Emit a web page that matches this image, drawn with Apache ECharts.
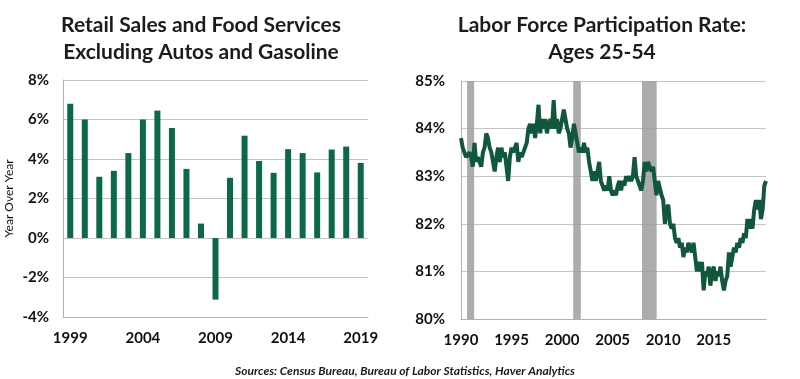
<!DOCTYPE html>
<html><head><meta charset="utf-8">
<script src="https://cdn.jsdelivr.net/npm/echarts@6/dist/echarts.min.js"></script>
<style>html,body{margin:0;padding:0;background:#fff}#c{width:800px;height:379px}</style>
</head><body><div id="c"></div>
<script>
// Left chart: Retail sales ex autos & gasoline, year over year %
const retailYears = ['1999','2000','2001','2002','2003','2004','2005','2006','2007','2008','2009','2010','2011','2012','2013','2014','2015','2016','2017','2018','2019'];
const retailValues = [6.8,6.0,3.1,3.4,4.3,6.0,6.45,5.57,3.5,0.73,-3.12,3.05,5.18,3.9,3.3,4.5,4.3,3.32,4.48,4.63,3.8];
const retailTicks = [-4,-2,0,2,4,6,8];

// Right chart: LFPR ages 25-54, readings every 2 months from Jan 1990
const lfprStart = 1990;
const lfprStepYears = 1/6;
const lfprValues = [
83.8,83.6,83.5,83.4,83.4,83.5,83.4,83.2,83.7,83.3,83.4,83.4,83.2,83.5,83.6,83.9,83.8,83.6,83.5,83.3,
83.1,83.4,83.6,83.3,83.6,83.4,83.5,83.2,82.9,83.4,83.6,83.5,83.6,83.7,83.3,83.5,83.4,83.5,83.5,83.7,
84.0,84.1,83.9,84.1,83.8,84.1,84.5,83.9,84.2,84.0,84.2,83.9,84.1,84.2,84.0,84.6,84.0,84.2,83.9,84.0,
84.2,84.4,84.4,84.0,83.9,83.6,83.8,84.1,83.9,83.7,83.5,83.6,83.5,83.7,83.5,83.6,83.3,83.1,82.9,83.1,
82.9,83.1,83.3,82.9,82.8,82.7,82.8,82.7,83.0,82.7,82.6,82.7,82.6,82.8,82.9,82.7,82.9,82.8,83.0,82.9,
83.0,82.9,83.0,83.4,83.0,82.9,82.8,82.7,82.9,83.3,83.1,83.3,83.2,83.1,83.2,82.9,82.6,82.9,82.9,82.6,
82.5,82.0,82.3,82.4,82.0,81.9,82.0,81.7,81.6,81.7,81.5,81.6,81.3,81.5,81.4,81.6,81.5,81.4,81.6,81.3,
81.0,81.2,81.0,81.2,80.6,81.0,80.9,81.1,80.7,81.0,81.1,80.8,81.0,80.9,81.1,80.8,80.6,80.8,80.9,81.4,
81.1,81.3,81.5,81.4,81.6,81.5,81.7,81.6,81.8,81.7,82.1,81.9,82.1,81.9,82.3,82.5,82.3,82.5,82.1,82.3,
82.8,82.9];
const lfprTicks = [80,81,82,83,84,85];
const lfprYearTicks = [1990,1995,2000,2005,2010,2015];
const recessions = [[1990.6,1991.3],[2001.1,2001.85],[2007.9,2009.35]];

const lfprData = lfprValues.map((v,i)=>[lfprStart + i*lfprStepYears, v]);
const lfprEnd = lfprStart + (lfprValues.length-1)*lfprStepYears;

const FONT = 'Lato';
const axisTxt = {color:'#111', fontFamily:FONT, fontWeight:'bold', fontSize:15};
const gridLine = {show:true, lineStyle:{color:'#c4c4c4', width:1}};

const chart = echarts.init(document.getElementById('c'), null, {renderer:'canvas'});
chart.setOption({
  animation:false,
  backgroundColor:'#fff',
  title:[
    {text:'Retail Sales and Food Services\nExcluding Autos and Gasoline', left:196, top:7, textAlign:'center',
     textStyle:{fontFamily:FONT, fontWeight:'bold', fontSize:21, color:'#1c1c1c', lineHeight:27}},
    {text:'Labor Force Participation Rate:\nAges 25-54', left:597, top:7, textAlign:'center',
     textStyle:{fontFamily:FONT, fontWeight:'bold', fontSize:21, color:'#1c1c1c', lineHeight:27}},
    {text:'Sources: Census Bureau, Bureau of Labor Statistics, Haver Analytics', left:400, top:360, textAlign:'center',
     textStyle:{fontFamily:FONT, fontWeight:'bold', fontStyle:'italic', fontSize:12, color:'#1c1c1c'}}
  ],
  grid:[
    {left:63, top:80, width:305, height:237, outerBoundsMode:'none'},
    {left:461, top:81, width:305, height:238, outerBoundsMode:'none'}
  ],
  xAxis:[
    {type:'category', gridIndex:0, data:retailYears, boundaryGap:true,
     axisLine:{onZero:false, lineStyle:{color:'#b0b0b0'}}, axisTick:{show:false},
     axisLabel:Object.assign({interval:4, margin:14}, axisTxt), splitLine:{show:false}},
    {type:'value', gridIndex:1, min:lfprStart, max:lfprEnd, interval:5,
     axisLine:{lineStyle:{color:'#b0b0b0'}}, axisTick:{show:false},
     axisLabel:Object.assign({margin:14, showMaxLabel:false,
       formatter:v=> lfprYearTicks.indexOf(v)>=0 ? String(v) : ''}, axisTxt),
     splitLine:{show:false}}
  ],
  yAxis:[
    {type:'value', gridIndex:0, min:retailTicks[0], max:retailTicks[retailTicks.length-1], interval:2,
     axisLine:{show:true, lineStyle:{color:'#b0b0b0'}}, axisTick:{show:false},
     axisLabel:Object.assign({margin:14, formatter:v=>v+'%'}, axisTxt),
     splitLine:gridLine,
     name:'Year Over Year', nameLocation:'middle', nameRotate:90, nameGap:48,
     nameTextStyle:{fontFamily:FONT, fontSize:12, color:'#111'}},
    {type:'value', gridIndex:1, min:lfprTicks[0], max:lfprTicks[lfprTicks.length-1], interval:1,
     axisLine:{show:true, lineStyle:{color:'#b0b0b0'}}, axisTick:{show:false},
     axisLabel:Object.assign({margin:16, formatter:v=>v+'%'}, axisTxt),
     splitLine:gridLine}
  ],
  series:[
    {type:'bar', xAxisIndex:0, yAxisIndex:0, data:retailValues, barWidth:6,
     itemStyle:{color:'#0b6a45'}},
    {type:'line', xAxisIndex:1, yAxisIndex:1, data:lfprData, showSymbol:false, symbol:'none',
     lineStyle:{color:'#11573b', width:4}, z:3,
     markArea:{silent:true, itemStyle:{color:'#9e9e9e', opacity:0.85},
       data:recessions.map(r=>[{xAxis:r[0]},{xAxis:r[1]}])}}
  ]
});
</script></body></html>
